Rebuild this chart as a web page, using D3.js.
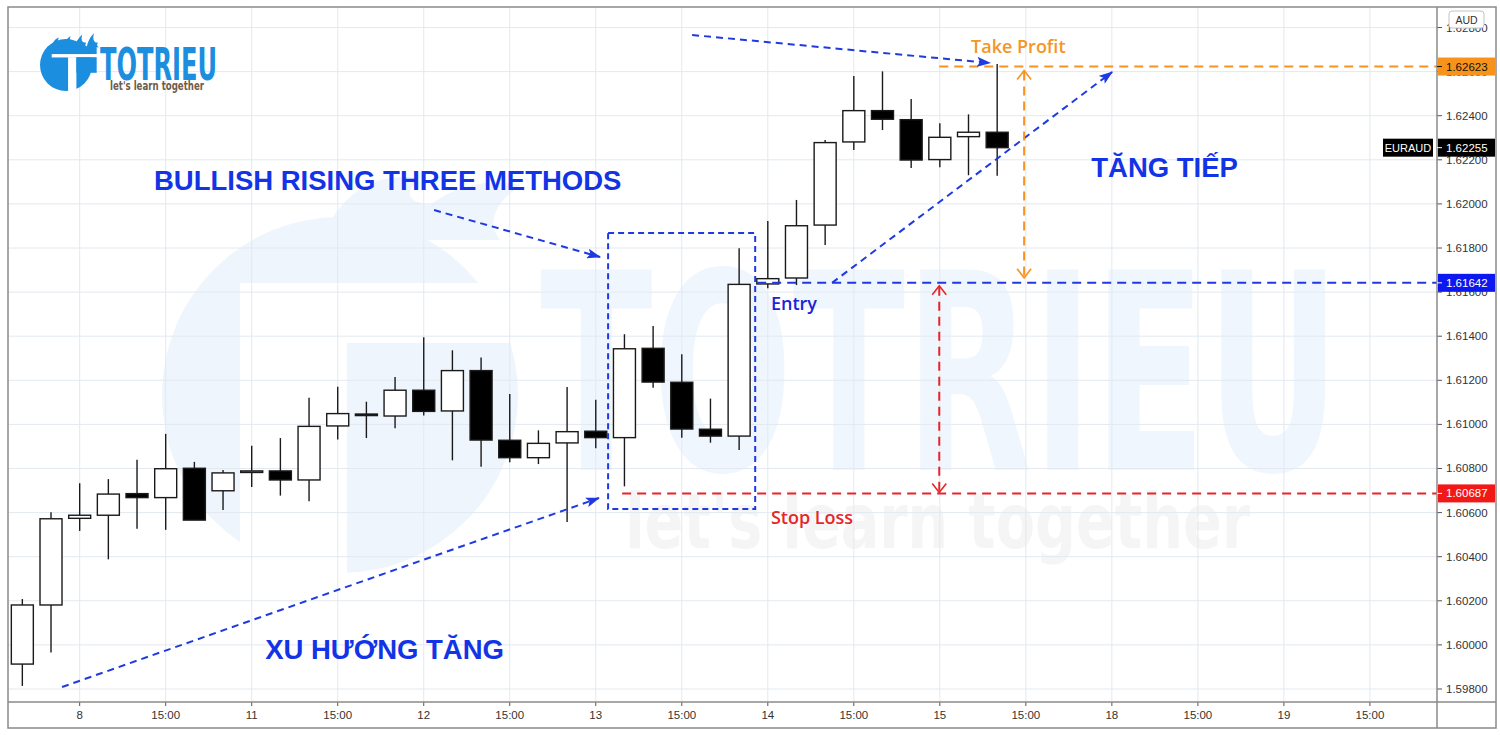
<!DOCTYPE html>
<html><head><meta charset="utf-8">
<script src="https://cdn.jsdelivr.net/npm/d3@7"></script>
<style>body{margin:0;background:#fff;} svg{display:block}</style>
</head><body><svg id="c" width="1500" height="735"></svg>
<script>
// ---------- DATA ----------
const opens  = [1.59913,1.60181,1.60574,1.60588,1.60686,1.60668,1.60801,1.60699,1.60782,1.60789,1.60748,1.60993,1.61047,1.61038,1.61155,1.61061,1.61244,1.60928,1.60849,1.60916,1.60969,1.60940,1.61345,1.61191,1.60978,1.60947,1.61637,1.61664,1.61904,1.62281,1.62423,1.62382,1.62201,1.62305,1.62325];
const highs  = [1.60208,1.60601,1.60733,1.60752,1.60840,1.60957,1.60830,1.60793,1.60903,1.60938,1.61121,1.61171,1.61103,1.61215,1.61395,1.61336,1.61303,1.61138,1.60973,1.61170,1.61112,1.61409,1.61446,1.61318,1.61117,1.61799,1.61922,1.62018,1.62290,1.62580,1.62601,1.62476,1.62366,1.62406,1.62635];
const lows   = [1.59814,1.59965,1.60517,1.60388,1.60527,1.60522,1.60566,1.60612,1.60716,1.60677,1.60651,1.60932,1.60938,1.60982,1.61040,1.60837,1.60808,1.60828,1.60820,1.60557,1.60892,1.60719,1.61166,1.60940,1.60917,1.60884,1.61617,1.61632,1.61814,1.62244,1.62335,1.62163,1.62166,1.62130,1.62128];
const closes = [1.60181,1.60572,1.60588,1.60684,1.60668,1.60799,1.60566,1.60780,1.60789,1.60748,1.60991,1.61049,1.61040,1.61155,1.61059,1.61244,1.60929,1.60849,1.60914,1.60967,1.60940,1.61343,1.61192,1.60979,1.60947,1.61635,1.61661,1.61901,1.62278,1.62423,1.62384,1.62199,1.62302,1.62325,1.62255];

const timeTickIndex  = [2,5,8,11,14,17,20,23,26,29,32,35,38,41,44,47];
const timeTickLabels = ['8','15:00','11','15:00','12','15:00','13','15:00','14','15:00','15','15:00','18','15:00','19','15:00'];
const priceTicks = [1.598,1.600,1.602,1.604,1.606,1.608,1.610,1.612,1.614,1.616,1.618,1.620,1.622,1.624,1.626,1.628];

const takeProfit = 1.62623, entryPrice = 1.61642, stopLoss = 1.60687, lastPrice = 1.62255;
const symbolName = 'EURAUD', currencyName = 'AUD';

// annotation geometry in data space [bar index, price]
const trendArrows = [
  [[1.385,1.59809],[20.11,1.60666]],
  [[14.36,1.61972],[20.15,1.61759]],
  [[23.36,1.62766],[33.75,1.62639]],
  [[28.24,entryPrice],[38.01,1.62598]]
];
const patternBoxIdx = [20.43, 25.56];
const patternBoxPrice = [1.60616, 1.61868];
const tpLineStart = 31.98, entryLineStart = 25.63, slLineStart = 20.92;
const tpArrowIdx = 34.94, slArrowIdx = 31.98;

const textLabels = [
  {t:'BULLISH RISING THREE METHODS', i:4.59,  p:1.62104, cls:'big'},
  {t:'XU HƯỚNG TĂNG',                i:8.47,  p:1.59977, cls:'big'},
  {t:'TĂNG TIẾP',                    i:37.28, p:1.62163, cls:'big'},
  {t:'Take Profit',                  i:33.09, p:1.62716, cls:'tp'},
  {t:'Entry',                        i:26.11, p:1.61551, cls:'en'},
  {t:'Stop Loss',                    i:26.11, p:1.60580, cls:'sl'}
];

// ---------- LAYOUT ----------
const L=8, R=1437, T=7, B=702, W=1496, H=728;
const svg = d3.select('#c');
const x = d3.scaleLinear().domain([-0.5, 49.34]).range([L, R]);
const y = d3.scaleLinear().domain([1.59741, 1.62893]).range([B, T]);
const BLUE='#1f3ae0', ORANGE='#f7931e', RED='#e8242a';

const defs = svg.append('defs');
defs.append('clipPath').attr('id','plot').append('rect').attr('x',L).attr('y',T).attr('width',R-L).attr('height',B-T);
defs.append('marker').attr('id','ah').attr('viewBox','0 0 14 10').attr('refX',13).attr('refY',5)
  .attr('markerWidth',14).attr('markerHeight',10).attr('markerUnits','userSpaceOnUse').attr('orient','auto')
  .append('path').attr('d','M0,0 L14,5 L0,10 L3,5 Z').attr('fill',BLUE);

svg.append('rect').attr('width',1500).attr('height',735).attr('fill','#fff');

const plot = svg.append('g').attr('clip-path','url(#plot)');

// ---------- LOGO helper ----------
function flames(g, cx, cy, r, col){
  const fl = g.append('g').attr('fill', col);
  [-0.55,-0.1,0.35,0.8].forEach((f,k)=>{
    const bx = cx + f*r, by = cy - 0.68*r, s = r*0.5;
    fl.append('path').attr('d',
      `M${bx},${by} Q${bx+0.05*s},${by-0.55*s} ${bx+0.55*s},${by-0.75*s - k*0.12*s} Q${bx+0.35*s},${by-0.35*s} ${bx+0.85*s},${by-0.35*s} Q${bx+0.7*s},${by-0.1*s} ${bx+0.95*s},${by} Z`);
  });
}
function logo(g, cx, cy, r, col){
  flames(g, cx, cy, r, col);
  g.append('circle').attr('cx',cx).attr('cy',cy).attr('r',r).attr('fill',col);
  g.append('rect').attr('x',cx-0.5*r).attr('y',cy-0.72*r).attr('width',1.68*r).attr('height',0.3*r).attr('fill',col);
  g.append('rect').attr('x',cx-0.55*r).attr('y',cy-0.42*r).attr('width',1.8*r).attr('height',0.13*r).attr('fill','#fff');
  g.append('rect').attr('x',cx+0.08*r).attr('y',cy-0.3*r).attr('width',0.32*r).attr('height',1.35*r).attr('fill','#fff');
  g.append('rect').attr('x',cx+0.4*r).attr('y',cy-0.3*r).attr('width',0.78*r).attr('height',0.6*r).attr('fill',col);
}

// ---------- WATERMARK ----------
const wm = plot.append('g');
const WMC = '#eef5fc';
wm.append('circle').attr('cx',340).attr('cy',395).attr('r',178).attr('fill',WMC);
wm.append('path').attr('d','M330,222 Q360,170 420,178 Q395,200 430,205 Q470,175 520,185 Q480,215 500,240 L330,240 Z').attr('fill',WMC);
wm.append('rect').attr('x',240).attr('y',283).attr('width',300).attr('height',60).attr('fill','#fff');
wm.append('rect').attr('x',240).attr('y',343).attr('width',107).attr('height',240).attr('fill','#fff');
wm.append('text').attr('x',540).attr('y',470).text('TOTRIEU')
  .attr('font-family','DejaVu Sans Condensed, DejaVu Sans').attr('font-weight','bold').attr('font-size',275)
  .attr('textLength',800).attr('lengthAdjust','spacingAndGlyphs').attr('fill','#f0f6fd');
wm.append('text').attr('x',625).attr('y',548).text("let's learn together")
  .attr('font-family','DejaVu Sans Condensed, DejaVu Sans').attr('font-weight','bold').attr('font-size',76)
  .attr('textLength',625).attr('lengthAdjust','spacingAndGlyphs').attr('fill','#f5f5f5');

// ---------- GRID ----------
plot.append('g').selectAll('line').data(timeTickIndex).join('line')
  .attr('x1',d=>x(d)).attr('x2',d=>x(d)).attr('y1',T).attr('y2',B).attr('stroke','#e2e9f0').attr('stroke-width',1);
plot.append('g').selectAll('line').data(priceTicks).join('line')
  .attr('x1',L).attr('x2',R).attr('y1',d=>y(d)).attr('y2',d=>y(d)).attr('stroke','#e2e9f0').attr('stroke-width',1);

// ---------- LOGO ----------
const lg = svg.append('g');
logo(lg, 66, 65, 26, '#1b8ee0');
lg.append('text').attr('x',100).attr('y',80).text('TOTRIEU')
  .attr('font-family','DejaVu Sans Condensed, DejaVu Sans').attr('font-weight','bold').attr('font-size',44)
  .attr('textLength',117).attr('lengthAdjust','spacingAndGlyphs').attr('fill','#1b8ee0');
lg.append('text').attr('x',110).attr('y',90).text("let's learn together")
  .attr('font-family','DejaVu Sans Condensed, DejaVu Sans').attr('font-weight','bold').attr('font-size',12.5)
  .attr('textLength',94).attr('lengthAdjust','spacingAndGlyphs').attr('fill','#6e5b4c');

// ---------- CANDLES ----------
const idx = d3.range(opens.length);
const cg = plot.append('g');
cg.selectAll('line').data(idx).join('line')
  .attr('x1',i=>x(i)).attr('x2',i=>x(i)).attr('y1',i=>y(highs[i])).attr('y2',i=>y(lows[i]))
  .attr('stroke','#1a1a1a').attr('stroke-width',1.4);
cg.selectAll('rect').data(idx).join('rect')
  .attr('x',i=>x(i)-11).attr('width',22)
  .attr('y',i=>y(Math.max(opens[i],closes[i])))
  .attr('height',i=>Math.max(1.5, Math.abs(y(opens[i])-y(closes[i]))))
  .attr('fill',i=>closes[i]>=opens[i]?'#fff':'#000')
  .attr('stroke','#1a1a1a').attr('stroke-width',1.4);

// ---------- ANNOTATIONS ----------
const an = plot.append('g');
an.append('line').attr('x1',x(tpLineStart)).attr('x2',R).attr('y1',y(takeProfit)).attr('y2',y(takeProfit))
  .attr('stroke',ORANGE).attr('stroke-width',2).attr('stroke-dasharray','9,6');
an.append('line').attr('x1',x(entryLineStart)).attr('x2',R).attr('y1',y(entryPrice)).attr('y2',y(entryPrice))
  .attr('stroke',BLUE).attr('stroke-width',2).attr('stroke-dasharray','9,6');
an.append('line').attr('x1',x(slLineStart)).attr('x2',R).attr('y1',y(stopLoss)).attr('y2',y(stopLoss))
  .attr('stroke',RED).attr('stroke-width',2).attr('stroke-dasharray','9,6');
an.append('rect').attr('x',x(patternBoxIdx[0])).attr('y',y(patternBoxPrice[1]))
  .attr('width',x(patternBoxIdx[1])-x(patternBoxIdx[0])).attr('height',y(patternBoxPrice[0])-y(patternBoxPrice[1]))
  .attr('fill','none').attr('stroke',BLUE).attr('stroke-width',2).attr('stroke-dasharray','6,4');
an.selectAll('line.tr').data(trendArrows).join('line').attr('class','tr')
  .attr('x1',d=>x(d[0][0])).attr('y1',d=>y(d[0][1])).attr('x2',d=>x(d[1][0])).attr('y2',d=>y(d[1][1]))
  .attr('stroke',BLUE).attr('stroke-width',2).attr('stroke-dasharray','7,5').attr('marker-end','url(#ah)');
function vArrow(xi, pTop, pBot, col, offTop, offBot){
  const xx = x(xi), y1 = y(pTop)+offTop, y2 = y(pBot)-offBot;
  an.append('line').attr('x1',xx).attr('x2',xx).attr('y1',y1+1).attr('y2',y2-1)
    .attr('stroke',col).attr('stroke-width',2).attr('stroke-dasharray','9,6');
  an.append('path').attr('d',`M${xx-7},${y1+9} L${xx},${y1} L${xx+7},${y1+9}`).attr('fill','none').attr('stroke',col).attr('stroke-width',1.6);
  an.append('path').attr('d',`M${xx-7},${y2-9} L${xx},${y2} L${xx+7},${y2-9}`).attr('fill','none').attr('stroke',col).attr('stroke-width',1.6);
}
vArrow(tpArrowIdx, takeProfit, entryPrice, ORANGE, 4, 5);
vArrow(slArrowIdx, entryPrice, stopLoss, RED, 3, 1);

const styles = {
  big:{ff:'Liberation Sans, Arial, sans-serif', fs:27.5, fw:'bold', fill:'#1234e6'},
  tp:{ff:'Open Sans, sans-serif', fs:18, fw:'600', fill:'#f4961f'},
  en:{ff:'Open Sans, sans-serif', fs:18, fw:'600', fill:'#1a24d8'},
  sl:{ff:'Open Sans, sans-serif', fs:18, fw:'600', fill:'#e5262b'}
};
an.selectAll('text.lab').data(textLabels).join('text').attr('class','lab')
  .attr('x',d=>x(d.i)).attr('y',d=>y(d.p)).attr('dominant-baseline','central')
  .attr('font-family',d=>styles[d.cls].ff).attr('font-size',d=>styles[d.cls].fs)
  .attr('font-weight',d=>styles[d.cls].fw).attr('fill',d=>styles[d.cls].fill).text(d=>d.t);

// ---------- AXES & FRAME ----------
const ax = svg.append('g').attr('font-family','Liberation Sans, Arial, sans-serif').attr('font-size',11.5).attr('fill','#333');
ax.selectAll('line.pt').data(priceTicks).join('line').attr('class','pt')
  .attr('x1',R).attr('x2',R+5).attr('y1',d=>y(d)).attr('y2',d=>y(d)).attr('stroke','#555');
ax.selectAll('text.pt').data(priceTicks).join('text').attr('class','pt')
  .attr('x',R+9).attr('y',d=>y(d)).attr('dominant-baseline','central').text(d=>d3.format('.5f')(d));
ax.selectAll('line.tt').data(timeTickIndex).join('line').attr('class','tt')
  .attr('x1',d=>x(d)).attr('x2',d=>x(d)).attr('y1',B).attr('y2',B+4).attr('stroke','#555');
ax.selectAll('text.tt').data(timeTickIndex).join('text').attr('class','tt')
  .attr('x',d=>x(d)).attr('y',B+13).attr('text-anchor','middle').attr('dominant-baseline','central')
  .text((d,k)=>timeTickLabels[k]);

svg.append('rect').attr('x',L).attr('y',T).attr('width',W-L).attr('height',H-T).attr('fill','none').attr('stroke','#8a8a8a').attr('stroke-width',1.5);
svg.append('line').attr('x1',R).attr('x2',R).attr('y1',T).attr('y2',H).attr('stroke','#8a8a8a').attr('stroke-width',1.5);
svg.append('line').attr('x1',L).attr('x2',W).attr('y1',B).attr('y2',B).attr('stroke','#8a8a8a').attr('stroke-width',1.5);

svg.append('rect').attr('x',1449).attr('y',11).attr('width',35).attr('height',17).attr('rx',3)
  .attr('fill','#fff').attr('stroke','#c4c4c4');
svg.append('text').attr('x',1466.5).attr('y',19.5).attr('text-anchor','middle').attr('dominant-baseline','central')
  .attr('font-family','Liberation Sans, Arial, sans-serif').attr('font-size',10.5).attr('fill','#333').text(currencyName);

function tag(p, bg, fg){
  svg.append('rect').attr('x',R+1).attr('y',y(p)-9).attr('width',57).attr('height',18).attr('fill',bg);
  svg.append('line').attr('x1',R).attr('x2',R+5).attr('y1',y(p)).attr('y2',y(p)).attr('stroke',fg);
  svg.append('text').attr('x',R+9).attr('y',y(p)).attr('dominant-baseline','central')
    .attr('font-family','Liberation Sans, Arial, sans-serif').attr('font-size',11.5).attr('fill',fg).text(d3.format('.5f')(p));
}
tag(takeProfit, '#f7931a', '#111');
tag(lastPrice, '#000', '#fff');
tag(entryPrice, '#0d18ee', '#fff');
tag(stopLoss, '#f21818', '#fff');
svg.append('rect').attr('x',1383).attr('y',y(lastPrice)-9).attr('width',50).attr('height',18).attr('fill','#000');
svg.append('text').attr('x',1408).attr('y',y(lastPrice)).attr('text-anchor','middle').attr('dominant-baseline','central')
  .attr('font-family','Liberation Sans, Arial, sans-serif').attr('font-size',11).attr('fill','#fff').text(symbolName);
</script></body></html>
